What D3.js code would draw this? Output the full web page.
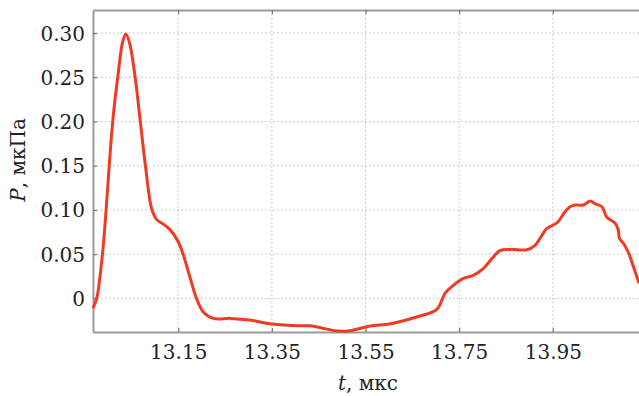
<!DOCTYPE html>
<html><head><meta charset="utf-8">
<script src="https://cdn.jsdelivr.net/npm/d3@7"></script>
<style>body{margin:0;background:#fff}svg{display:block}</style>
</head><body>
<svg id="c" width="639" height="396"></svg>
<script>
const tValues = [12.968,12.976,12.983,12.990,12.996,13.004,13.011,13.022,13.031,13.038,13.046,13.058,13.069,13.080,13.093,13.104,13.118,13.132,13.150,13.161,13.175,13.189,13.203,13.225,13.261,13.303,13.350,13.410,13.431,13.492,13.517,13.553,13.609,13.659,13.702,13.720,13.738,13.759,13.780,13.802,13.820,13.837,13.859,13.895,13.912,13.927,13.937,13.959,13.976,13.987,13.998,14.015,14.030,14.040,14.055,14.065,14.083,14.090,14.092,14.101,14.112,14.122,14.134];
const pValues = [-0.011,0.000,0.025,0.060,0.100,0.160,0.205,0.255,0.289,0.299,0.289,0.250,0.200,0.150,0.102,0.089,0.084,0.078,0.064,0.049,0.024,0.000,-0.015,-0.0226,-0.0226,-0.0245,-0.029,-0.031,-0.031,-0.037,-0.0366,-0.032,-0.028,-0.021,-0.0125,0.006,0.015,0.0226,0.026,0.034,0.045,0.054,0.0554,0.055,0.060,0.0716,0.079,0.0855,0.098,0.1036,0.1055,0.1055,0.110,0.107,0.1036,0.092,0.085,0.077,0.068,0.062,0.051,0.036,0.017];
const xTicks = [13.15,13.35,13.55,13.75,13.95];
const yTicks = [0,0.05,0.10,0.15,0.20,0.25,0.30];
const xLabel = "t";
const yLabel = "P";
const unitX = ", мкс";
const unitY = ", мкПа";

const FONT = "DejaVu Serif";
const svg = d3.select("#c");
const L = 93, R = 639, T = 10, B = 332;
const x = d3.scaleLinear().domain([12.968, 14.134]).range([L, R]);
const y = d3.scaleLinear().domain([-0.038, 0.326]).range([B, T]);

const g = svg.append("g");
g.selectAll(".gx").data(xTicks).enter().append("line")
  .attr("x1", d => x(d)).attr("x2", d => x(d)).attr("y1", T).attr("y2", B)
  .attr("stroke", "#b8bfc4").attr("stroke-width", 1).attr("stroke-dasharray", "1.5,2.5");
g.selectAll(".gy").data(yTicks).enter().append("line")
  .attr("x1", L).attr("x2", R).attr("y1", d => y(d)).attr("y2", d => y(d))
  .attr("stroke", "#b8bfc4").attr("stroke-width", 1).attr("stroke-dasharray", "1.5,2.5");

const axisColor = "#9a9a9a";
const xAxis = d3.axisBottom(x).tickValues(xTicks).tickSizeInner(-4).tickSizeOuter(0).tickFormat(d3.format(".2f"));
const yAxis = d3.axisLeft(y).tickValues(yTicks).tickSizeInner(-4).tickSizeOuter(0).tickFormat(d => d === 0 ? "0" : d3.format(".2f")(d));
const gx = svg.append("g").attr("transform", `translate(0,${B})`).call(xAxis);
const gy = svg.append("g").attr("transform", `translate(${L},0)`).call(yAxis);
const gt = svg.append("g").attr("transform", `translate(0,${T})`).call(d3.axisTop(x).tickValues(xTicks).tickSizeInner(-4).tickSizeOuter(0).tickFormat(""));
[gx, gy, gt].forEach(a => {
  a.attr("font-family", FONT);
  a.select(".domain").attr("stroke", axisColor).attr("stroke-width", 2);
  a.selectAll(".tick line").attr("stroke", "#777").attr("stroke-width", 1.2);
  a.selectAll("text").attr("fill", "#222").attr("font-size", 20);
});
gx.selectAll("text").attr("dy", "0.71em").attr("y", 13);
gy.selectAll("text").attr("x", -8).attr("dy", "0.35em");

const line = d3.line().x((d, i) => x(tValues[i])).y(d => y(d)).curve(d3.curveCatmullRom.alpha(0.5));
svg.append("path").datum(pValues).attr("d", line)
  .attr("fill", "none").attr("stroke", "#f03a24").attr("stroke-width", 3).attr("stroke-linejoin", "round");

svg.append("text").attr("x", 368).attr("y", 390).attr("text-anchor", "middle")
  .attr("font-family", FONT).attr("font-size", 20).attr("fill", "#222")
  .call(t => { t.append("tspan").attr("font-style", "italic").text(xLabel); t.append("tspan").text(unitX); });
svg.append("text").attr("transform", "translate(25,160) rotate(-90)").attr("text-anchor", "middle")
  .attr("font-family", FONT).attr("font-size", 20).attr("fill", "#222")
  .call(t => { t.append("tspan").attr("font-style", "italic").text(yLabel); t.append("tspan").text(unitY); });
</script>
</body></html>
